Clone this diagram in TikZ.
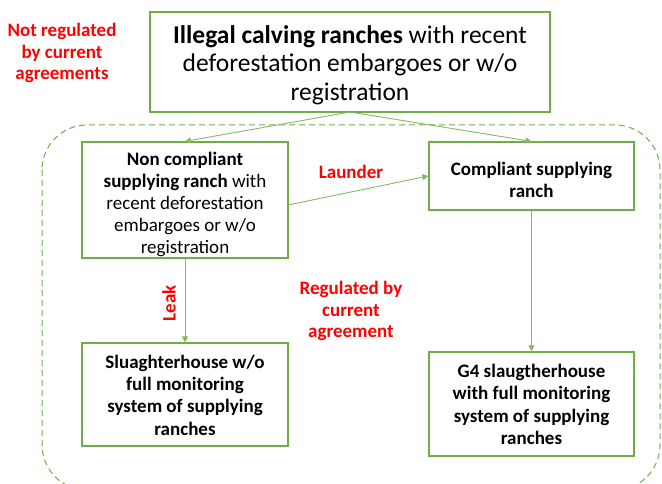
\documentclass[tikz,border=0pt]{standalone}
\usepackage{fontspec}
\setmainfont{Carlito}
\usetikzlibrary{arrows.meta}
\definecolor{ogreen}{RGB}{112,173,71}
\definecolor{lred}{RGB}{255,0,0}
\begin{document}
\begin{tikzpicture}[x=1pt,y=-1pt,
  box/.style={draw=ogreen,line width=1.2pt,fill=white,inner sep=0pt},
  txt/.style={align=center,inner sep=0pt,text=black},
  conn/.style={draw=ogreen!85!white,line width=0.9pt,-{Triangle[length=6pt,width=6pt]}},
  lab/.style={text=lred,font=\fontsize{19}{21.5}\selectfont\bfseries,align=center}]
\useasboundingbox (0,0) rectangle (662,484);
\fill[white] (0,0) rectangle (662,484);
% dashed region
\draw[ogreen,line width=1pt,dash pattern=on 6pt off 4pt,rounded corners=45pt] (42,125) rectangle (660,490);
% boxes
\node[box,minimum width=400pt,minimum height=100pt] (top) at (350,62) {};
\node[txt,font=\fontsize{25.5}{28.5}\selectfont] (toptxt) at (350,65)
  {\textbf{Illegal calving ranches} with recent\\deforestation embargoes or w/o\\registration};
\node[box,minimum width=206pt,minimum height=116pt] (nc) at (185,200) {};
\node[txt,font=\fontsize{19}{22}\selectfont] (nctxt) at (185,204)
  {\textbf{Non compliant}\\\textbf{supplying ranch} with\\recent deforestation\\embargoes or w/o\\registration};
\node[box,minimum width=205pt,minimum height=68pt] (c) at (531.5,176) {};
\node[txt,font=\fontsize{19}{22.3}\selectfont\bfseries] (ctxt) at (531.5,180)
  {Compliant supplying\\ranch};
\node[box,minimum width=206pt,minimum height=103pt] (s) at (185,394.5) {};
\node[txt,font=\fontsize{19}{22.3}\selectfont\bfseries] (stxt) at (185,395)
  {Sluaghterhouse w/o\\full monitoring\\system of supplying\\ranches};
\node[box,minimum width=205pt,minimum height=104pt] (g) at (531.5,404) {};
\node[txt,font=\fontsize{19}{22.3}\selectfont\bfseries] (gtxt) at (531.5,404.5)
  {G4 slaugtherhouse\\with full monitoring\\system of supplying\\ranches};
% connectors
\coordinate (tb) at (350,112);
\draw[conn] (tb) -- (nc.north);
\draw[conn] (tb) -- (c.north);
\draw[conn] (288,205) -- (c.west);
\draw[conn] (nc.south) -- (s.north);
\draw[conn] (c.south) -- (g.north);
% labels
\node[lab] (nr) at (62,53) {Not regulated\\by current\\agreements};
\node[lab] (la) at (351,172) {Launder};
\node[lab,rotate=90] (lk) at (169,303) {Leak};
\node[lab] (rg) at (351,311) {Regulated by\\current\\agreement};
\end{tikzpicture}
\end{document}
